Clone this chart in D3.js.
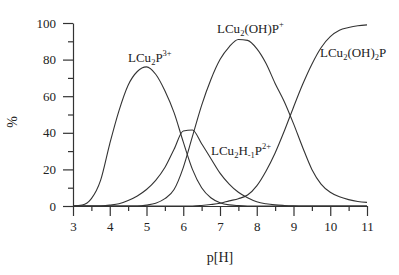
<!DOCTYPE html>
<meta charset="utf-8">
<script src="https://cdn.jsdelivr.net/npm/d3@7"></script>
<head>
<style>
    body { margin: 0; background: #fff; }
    text { font-family: "Liberation Serif", "Times New Roman", serif; fill: #222; }
</style>
</head>
<body>
<script>

    // p[H] grid and species distribution (%)
    var pH = [3, 3.25, 3.5, 3.75, 4, 4.25, 4.5, 4.75, 5, 5.25, 5.5, 5.75, 6, 6.25, 6.5, 6.75,
              7, 7.25, 7.5, 7.75, 8, 8.25, 8.5, 8.75, 9, 9.25, 9.5, 9.75, 10, 10.25, 10.5, 10.75, 11];

    var LCu2P = [0, 0.5, 4, 14, 34, 52, 66, 73.5, 76, 72, 63, 51, 35, 20, 10, 4.5,
                 1.8, 0.6, 0.2, 0, 0, 0, 0, 0, 0, 0, 0, 0, 0, 0, 0, 0, 0];
    var LCu2H1P = [0, 0, 0, 0, 0.5, 1.2, 3, 5.5, 9, 14, 21, 31, 41, 41.5, 34, 26,
                   18, 12, 7.5, 4.5, 2.3, 1.2, 0.6, 0.3, 0.1, 0, 0, 0, 0, 0, 0, 0, 0];
    var LCu2OHP = [0, 0, 0, 0, 0, 0, 0, 0, 0.5, 1.5, 4, 9, 21, 38, 55, 69,
                   80, 87, 91, 90.5, 86, 78, 67, 57, 45, 32, 20, 12, 7.5, 5, 3.5, 2.5, 2];
    var LCu2OH2P = [0, 0, 0, 0, 0, 0, 0, 0, 0, 0, 0, 0, 0, 0, 0.3, 0.8,
                    1.5, 2.8, 4, 6, 11, 19, 29, 41, 54, 66.5, 77.5, 86.5, 92.5, 96, 97.5, 98.5, 99];

    var seriesList = [LCu2P, LCu2H1P, LCu2OHP, LCu2OH2P];

    var xTicks = [3, 4, 5, 6, 7, 8, 9, 10, 11];
    var xMinor = [3.5, 4.5, 5.5, 6.5, 7.5, 8.5, 9.5, 10.5];
    var yTicks = [0, 20, 40, 60, 80, 100];
    var yMinor = [10, 30, 50, 70, 90];

    var width = 399, height = 275;
    var margin = {top: 23, right: 32, bottom: 69, left: 73};

    var svg = d3.select("body").append("svg")
        .attr("width", width)
        .attr("height", height);

    var x = d3.scaleLinear().domain([3, 11]).range([margin.left, width - margin.right]);
    var y = d3.scaleLinear().domain([0, 100]).range([height - margin.bottom, margin.top]);

    // minor ticks first, major axis on top
    svg.append("g")
        .attr("transform", "translate(" + margin.left + ",0)")
        .call(d3.axisLeft(y).tickValues(yMinor).tickSize(5).tickFormat(""))
        .call(function(g) { g.select(".domain").remove(); });

    svg.append("g")
        .attr("transform", "translate(0," + y(0) + ")")
        .call(d3.axisBottom(x).tickValues(xMinor).tickSize(5).tickFormat(""))
        .call(function(g) { g.select(".domain").remove(); });

    var yAxis = svg.append("g")
        .attr("transform", "translate(" + margin.left + ",0)")
        .call(d3.axisLeft(y).tickValues(yTicks).tickSize(10).tickSizeOuter(0).tickPadding(7));

    var xAxis = svg.append("g")
        .attr("transform", "translate(0," + y(0) + ")")
        .call(d3.axisBottom(x).tickValues(xTicks).tickSize(10).tickSizeOuter(0).tickPadding(6));

    svg.selectAll(".tick line, .domain")
        .attr("stroke", "#333")
        .attr("stroke-width", 1.2);

    svg.selectAll(".tick text")
        .style("font-family", '"Liberation Serif", serif')
        .style("font-size", "13px")
        .attr("fill", "#222");

    var line = d3.line()
        .x(function(d, i) { return x(pH[i]); })
        .y(function(d) { return y(d); })
        .curve(d3.curveMonotoneX);

    svg.selectAll(".species")
        .data(seriesList)
        .enter()
        .append("path")
        .attr("class", "species")
        .attr("d", line)
        .attr("fill", "none")
        .attr("stroke", "#333")
        .attr("stroke-width", 1.1);

    // axis titles
    svg.append("text")
        .attr("x", x(7))
        .attr("y", 262)
        .attr("text-anchor", "middle")
        .style("font-size", "14px")
        .text("p[H]");

    svg.append("text")
        .attr("transform", "translate(17,122) rotate(-90)")
        .attr("text-anchor", "middle")
        .style("font-size", "14px")
        .text("%");

    // species labels, each part: [text, 0 normal / 1 subscript / -1 superscript]
    var labels = [
        {x: 128, y: 62, parts: [["LCu", 0], ["2", 1], ["P", 0], ["3+", -1]]},
        {x: 217, y: 33, parts: [["LCu", 0], ["2", 1], ["(OH)P", 0], ["+", -1]]},
        {x: 320, y: 57, parts: [["LCu", 0], ["2", 1], ["(OH)", 0], ["2", 1], ["P", 0]]},
        {x: 211, y: 155, parts: [["LCu", 0], ["2", 1], ["H", 0], ["-1", 1], ["P", 0], ["2+", -1]]}
    ];

    labels.forEach(function(lb) {
        var t = svg.append("text")
            .attr("x", lb.x)
            .attr("y", lb.y)
            .style("font-size", "13px");
        var shift = 0;
        lb.parts.forEach(function(p) {
            var target = p[1] === 1 ? 3 : (p[1] === -1 ? -6 : 0);
            t.append("tspan")
                .attr("dy", target - shift)
                .style("font-size", p[1] === 0 ? "13px" : "8.5px")
                .text(p[0]);
            shift = target;
        });
    });

</script>
</body>
</html>
